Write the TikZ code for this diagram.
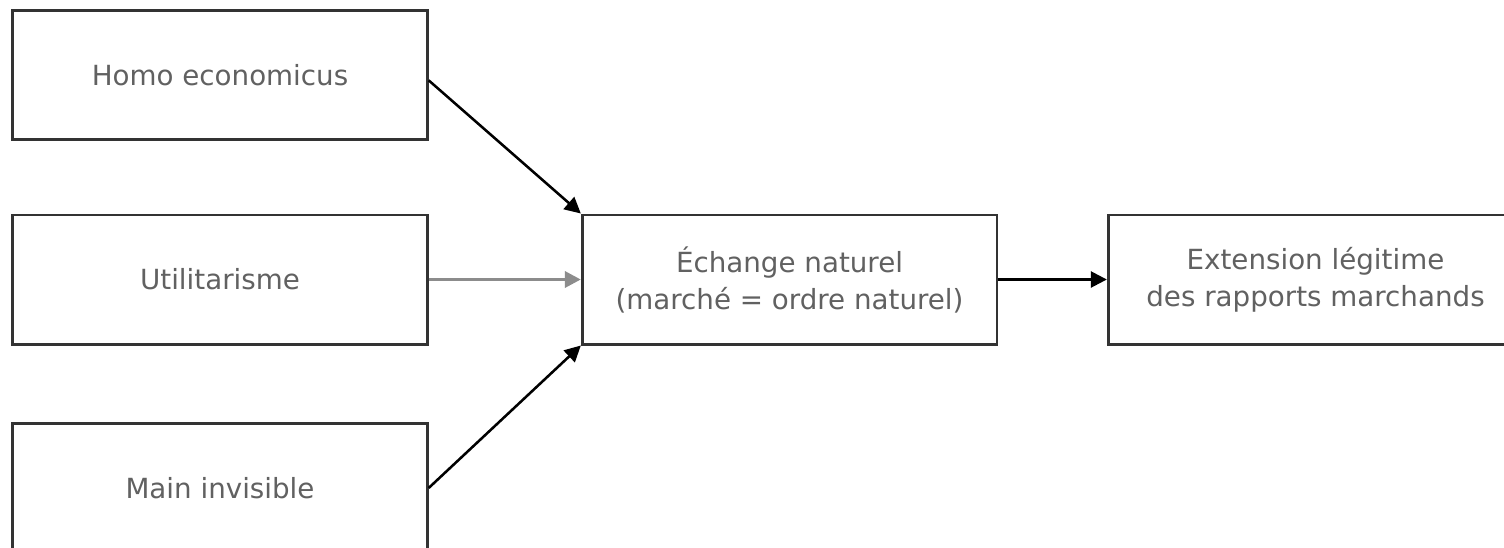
\documentclass[tikz,border=0pt]{standalone}
\usepackage{fontspec}
\setmainfont{DejaVu Sans}
\usetikzlibrary{arrows.meta}
\begin{document}
\begin{tikzpicture}[x=0.75pt,y=-0.75pt,
  box/.style={draw=black!80,line width=2pt,fill=white,rectangle,inner sep=0pt,
    minimum width=311pt,minimum height=97pt,align=center,text=black!62,
    font=\fontsize{20.8}{27.75}\selectfont},
  link/.style={line width=1.9pt,draw=black,
    -{Triangle[length=12pt,width=12pt]}}]
  \useasboundingbox (0,0) rectangle (1504,547);
  \clip (0,0) rectangle (1504,547);
  \fill[white] (0,0) rectangle (1504,547);
  % sources on the left
  \node[box] (homo) at (220,75) {Homo economicus};
  \node[box] (util) at (220,279.5) {Utilitarisme};
  \node[box] (main) at (220,488) {Main invisible};
  % central and right boxes
  \node[box] (echange) at (789.5,279.5) {Échange naturel\\(marché = ordre naturel)};
  \node[box] (ext) at (1315.5,279.5) {Extension légitime\\des rapports marchands};
  % connectors
  \draw[link] ([yshift=-4pt]homo.east) -- (echange.north west);
  \draw[link,draw=black!45,line width=2.6pt] (util.east) -- (echange.west);
  \draw[link] (main.east) -- (echange.south west);
  \draw[link] (echange.east) -- (ext.west);
\end{tikzpicture}
\end{document}
